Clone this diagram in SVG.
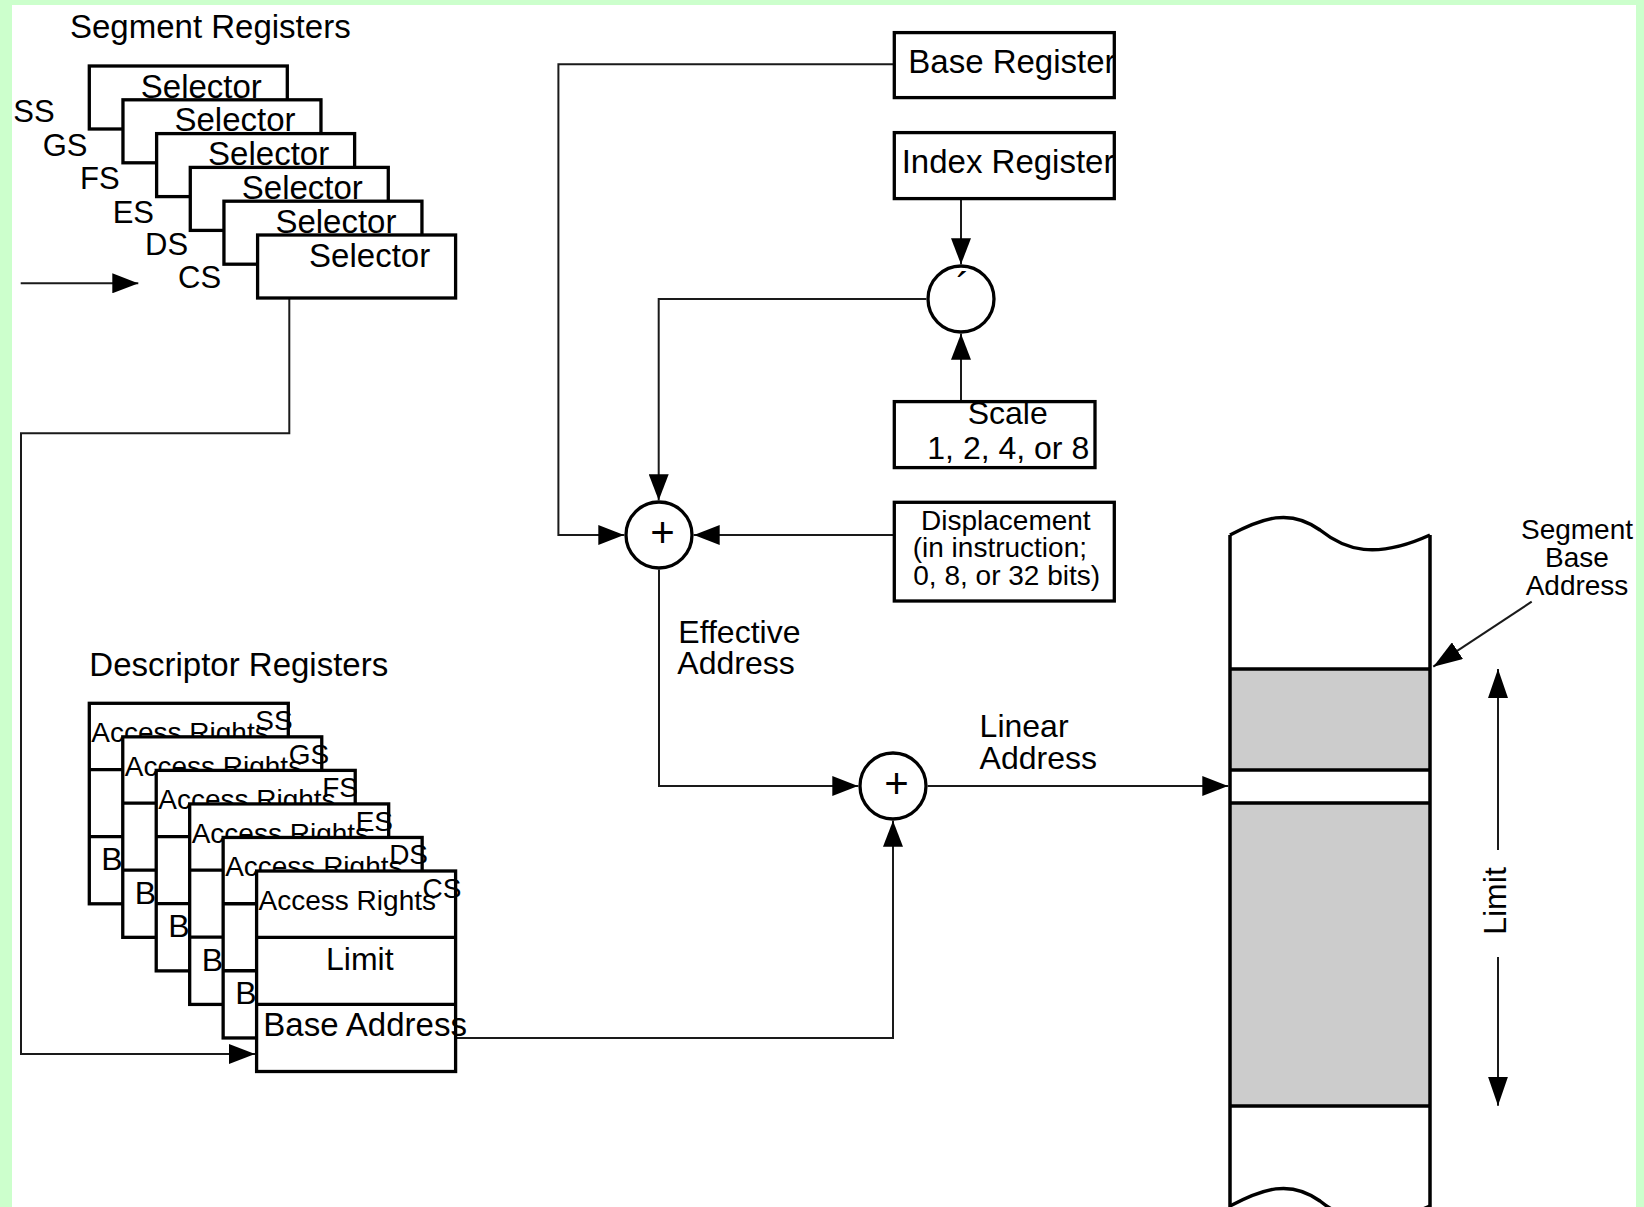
<svg xmlns="http://www.w3.org/2000/svg" width="1644" height="1207" viewBox="0 0 1644 1207">
<defs>
<style>
text{font-family:"Liberation Sans",Arial,sans-serif;fill:#000}
.t33{font-size:33px}
.t32{font-size:32px}
.t31{font-size:31px}
.t28{font-size:28px}
.box{fill:#fff;stroke:#000;stroke-width:3.3}
.div{stroke:#000;stroke-width:3.3;fill:none}
.con{fill:none;stroke:#1a1a1a;stroke-width:2}
.mem{fill:none;stroke:#000;stroke-width:3.5}
.gray{fill:#cccccc}
</style>
<marker id="ah" markerUnits="userSpaceOnUse" viewBox="0 0 26 20" markerWidth="26" markerHeight="20" refX="26" refY="10" orient="auto">
<path d="M0,0 L26,10 L0,20 Z" fill="#000"/>
</marker>
<marker id="ahL" markerUnits="userSpaceOnUse" viewBox="0 0 29 20" markerWidth="29" markerHeight="20" refX="29" refY="10" orient="auto">
<path d="M0,0 L29,10 L0,20 Z" fill="#000"/>
</marker>
</defs>

<rect x="0" y="0" width="1644" height="1207" fill="#ccffcc"/>
<rect x="12" y="5" width="1624" height="1202" fill="#fff"/>

<g id="connectors">
<path class="con" d="M20.7,283.3 H138.3" marker-end="url(#ah)"/>
<path class="con" d="M289.3,299 V433.3 H21 V1054 H255" marker-end="url(#ah)"/>
<path class="con" d="M894,64.3 H558.4 V535 H624.3" marker-end="url(#ah)"/>
<path class="con" d="M961,200 V264.3" marker-end="url(#ah)"/>
<path class="con" d="M961,401 V333.7" marker-end="url(#ah)"/>
<path class="con" d="M926.3,299 H658.7 V500.3" marker-end="url(#ah)"/>
<path class="con" d="M894,535 H693.7" marker-end="url(#ah)"/>
<path class="con" d="M659,569.7 V786 H858.3" marker-end="url(#ah)"/>
<path class="con" d="M457,1038 H893 V820.7" marker-end="url(#ah)"/>
<path class="con" d="M927.7,786 H1228.3" marker-end="url(#ah)"/>
<path class="con" d="M1531.7,601.7 L1433.3,666.7" marker-end="url(#ahL)"/>
<path class="con" d="M1498,850 V669" marker-end="url(#ahL)"/>
<path class="con" d="M1498,957 V1105.7" marker-end="url(#ahL)"/>
</g>

<g id="segment-registers-title">
<text class="t33" x="70" y="38.3">Segment Registers</text>
</g>

<g id="segment-registers">
<g id="seg-ss">
<rect class="box" x="89.3" y="66" width="198" height="63"/>
<text class="t33" x="140.8" y="97.5">Selector</text>
<text class="t31" x="13.3" y="121.7">SS</text>
</g>
<g id="seg-gs">
<rect class="box" x="122.96" y="99.8" width="198" height="63"/>
<text class="t33" x="174.5" y="131.3">Selector</text>
<text class="t31" x="42.7" y="156">GS</text>
</g>
<g id="seg-fs">
<rect class="box" x="156.62" y="133.6" width="198" height="63"/>
<text class="t33" x="208.1" y="165.1">Selector</text>
<text class="t31" x="80" y="189.3">FS</text>
</g>
<g id="seg-es">
<rect class="box" x="190.28" y="167.4" width="198" height="63"/>
<text class="t33" x="241.8" y="198.9">Selector</text>
<text class="t31" x="112.7" y="222.7">ES</text>
</g>
<g id="seg-ds">
<rect class="box" x="223.94" y="201.2" width="198" height="63"/>
<text class="t33" x="275.4" y="232.7">Selector</text>
<text class="t31" x="145" y="255">DS</text>
</g>
<g id="seg-cs">
<rect class="box" x="257.6" y="235" width="198" height="63"/>
<text class="t33" x="309.1" y="266.5">Selector</text>
<text class="t31" x="178" y="288.3">CS</text>
</g>
</g>

<g id="descriptor-registers-title">
<text class="t33" x="89.3" y="676">Descriptor Registers</text>
</g>

<g id="descriptor-registers">
<g id="desc-ss">
<rect class="box" x="89.3" y="703.3" width="199" height="200.5"/>
<path class="div" d="M89.3,769.6 H288.3 M89.3,836.6 H288.3"/>
<text class="t28" x="91.3" y="742.3">Access Rights</text>
<text class="t28" x="255.3" y="730.3">SS</text>
<text class="t32" x="101.3" y="870">B</text>
</g>
<g id="desc-gs">
<rect class="box" x="122.76" y="736.84" width="199" height="200.5"/>
<path class="div" d="M122.76,803.14 H321.76 M122.76,870.14 H321.76"/>
<text class="t28" x="124.76" y="775.84">Access Rights</text>
<text class="t28" x="288.76" y="763.84">GS</text>
<text class="t32" x="134.76" y="903.54">B</text>
</g>
<g id="desc-fs">
<rect class="box" x="156.22" y="770.38" width="199" height="200.5"/>
<path class="div" d="M156.22,836.68 H355.22 M156.22,903.68 H355.22"/>
<text class="t28" x="158.22" y="809.38">Access Rights</text>
<text class="t28" x="322.22" y="797.38">FS</text>
<text class="t32" x="168.22" y="937.08">B</text>
</g>
<g id="desc-es">
<rect class="box" x="189.68" y="803.92" width="199" height="200.5"/>
<path class="div" d="M189.68,870.22 H388.68 M189.68,937.22 H388.68"/>
<text class="t28" x="191.68" y="842.92">Access Rights</text>
<text class="t28" x="355.68" y="830.92">ES</text>
<text class="t32" x="201.68" y="970.62">B</text>
</g>
<g id="desc-ds">
<rect class="box" x="223.14" y="837.46" width="199" height="200.5"/>
<path class="div" d="M223.14,903.76 H422.14 M223.14,970.76 H422.14"/>
<text class="t28" x="225.14" y="876.46">Access Rights</text>
<text class="t28" x="389.14" y="864.46">DS</text>
<text class="t32" x="235.14" y="1004.16">B</text>
</g>
<g id="desc-cs">
<rect class="box" x="256.6" y="871" width="199" height="200.5"/>
<path class="div" d="M256.6,937.3 H455.6 M256.6,1004.3 H455.6"/>
<text class="t28" x="258.6" y="910">Access Rights</text>
<text class="t28" x="422.6" y="898">CS</text>
<text class="t32" x="326" y="970">Limit</text>
<text class="t33" x="263.3" y="1036">Base Address</text>
</g>
</g>

<g id="base-register">
<rect class="box" x="894.3" y="32.6" width="220" height="65"/>
<text class="t33" x="908.3" y="72.7">Base Register</text>
</g>

<g id="index-register">
<rect class="box" x="894.3" y="132.6" width="220" height="66"/>
<text class="t33" x="901.7" y="173.3">Index Register</text>
</g>

<g id="multiply">
<circle class="box" cx="961" cy="299" r="33"/>
<text x="963" y="301" text-anchor="middle" style="font-size:40px">´</text>
</g>

<g id="scale">
<rect class="box" x="894.3" y="401.6" width="200.7" height="66"/>
<text class="t32" x="967.7" y="424">Scale</text>
<text class="t32" x="927.3" y="459">1, 2, 4, or 8</text>
</g>

<g id="displacement">
<rect class="box" x="894.3" y="502.3" width="220" height="98.7"/>
<text class="t28" x="921" y="529.5">Displacement</text>
<text class="t28" x="912.7" y="557">(in instruction;</text>
<text class="t28" x="913.3" y="584.5">0, 8, or 32 bits)</text>
</g>

<g id="adder-effective">
<circle class="box" cx="659" cy="535" r="33"/>
<text x="662.5" y="546.6" text-anchor="middle" style="font-size:42px">+</text>
</g>

<g id="effective-address-label">
<text class="t32" x="678.3" y="643.3">Effective</text>
<text class="t32" x="677.3" y="674">Address</text>
</g>

<g id="adder-linear">
<circle class="box" cx="893" cy="786" r="33"/>
<text x="896.5" y="797.6" text-anchor="middle" style="font-size:42px">+</text>
</g>

<g id="linear-address-label">
<text class="t32" x="979.6" y="737">Linear</text>
<text class="t32" x="979.6" y="769.3">Address</text>
</g>

<g id="memory">
<rect class="gray" x="1230" y="669" width="200" height="101"/>
<rect class="gray" x="1230" y="803" width="200" height="303"/>
<path class="mem" d="M1230,669 H1430 M1230,770 H1430 M1230,803 H1430 M1230,1106 H1430"/>
<path class="mem" d="M1230,535 V1210 M1430,535 V1210"/>
<path class="mem" d="M1230,535 C1262,518 1290,508 1320,530 C1345,550 1375,560 1430,535"/>
<path class="mem" d="M1230,1206 C1262,1189 1290,1179 1320,1201 C1345,1221 1375,1231 1430,1206"/>
</g>

<g id="segment-base-address-label">
<text class="t28" x="1577" y="539.3" text-anchor="middle">Segment</text>
<text class="t28" x="1577" y="567.3" text-anchor="middle">Base</text>
<text class="t28" x="1577" y="595" text-anchor="middle">Address</text>
</g>

<g id="limit-label">
<text class="t32" text-anchor="middle" transform="translate(1506,901) rotate(-90)">Limit</text>
</g>
</svg>
